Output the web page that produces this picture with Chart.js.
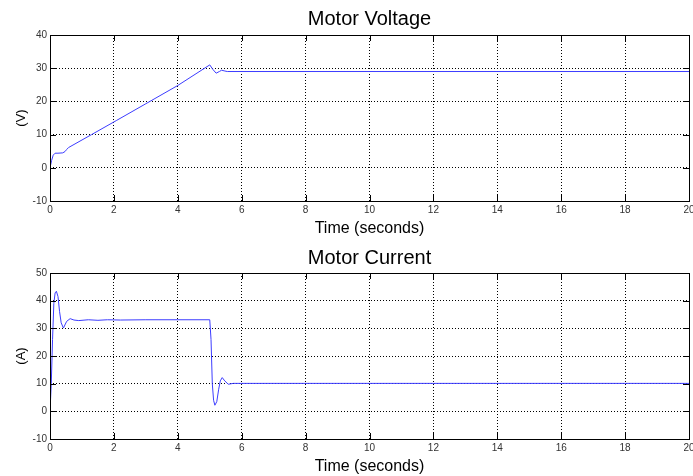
<!DOCTYPE html>
<html>
<head>
<meta charset="utf-8">
<script src="https://cdn.jsdelivr.net/npm/chart.js@4/dist/chart.umd.min.js"></script>
<style>
  body { margin: 0; background: #fff; }
  #voltage { position: absolute; left: 0; top: 0; }
  #current { position: absolute; left: 0; top: 238px; }
</style>
</head>
<body>
<canvas id="voltage" width="693" height="238"></canvas>
<canvas id="current" width="693" height="238"></canvas>
<script>
// x ticks shared by both plots
var timeTicks = [0, 2, 4, 6, 8, 10, 12, 14, 16, 18, 20];

// motor voltage (V) vs time (s)
var voltTime   = [0, 0.05, 0.1, 0.16, 0.25, 0.4, 0.47, 0.52, 0.58, 1.3, 2.09, 3, 4, 5.0, 5.1, 5.2, 5.3, 5.37, 5.45, 5.55, 20];
var voltValues = [0, 2.2, 3.8, 4.4, 4.4, 4.5, 4.9, 5.5, 6.1, 10, 14.3, 19.3, 24.8, 31.0, 29.6, 28.5, 29.0, 29.4, 29.2, 29.0, 29.0];
var voltTicks  = [-10, 0, 10, 20, 30, 40];

// motor current (A) vs time (s)
var currTime   = [0, 0.04, 0.08, 0.12, 0.16, 0.2, 0.25, 0.3, 0.35, 0.42, 0.52, 0.63, 0.75, 0.9, 1.2, 1.5, 1.8, 2.2, 3, 4, 5.0, 5.04, 5.08, 5.12, 5.16, 5.22, 5.28, 5.33, 5.39, 5.47, 5.58, 5.74, 20];
var currValues = [0, 10, 26, 39, 42.8, 43.4, 41.5, 36, 32, 30.1, 32.5, 33.5, 33, 32.8, 33.1, 32.9, 33.1, 33, 33.1, 33.1, 33.1, 26, 10, 4, 2.2, 3.5, 8, 11, 12.2, 11, 9.8, 10.1, 10.1];
var currTicks  = [-10, 0, 10, 20, 30, 40, 50];

var fontFam = '"Liberation Sans", Arial, Helvetica, sans-serif';

// MATLAB style box with inward tick marks
var boxPlugin = {
    id: 'box',
    afterDraw: function(chart) {
        var ctx = chart.ctx;
        var a = chart.chartArea;
        var xs = chart.scales.x;
        var ys = chart.scales.y;
        var tl = 6;
        ctx.save();
        ctx.strokeStyle = '#000';
        ctx.lineWidth = 1;
        ctx.setLineDash([]);
        ctx.beginPath();
        xs.ticks.forEach(function(t) {
            var px = Math.round(xs.getPixelForValue(t.value)) + 0.5;
            ctx.moveTo(px, a.bottom);
            ctx.lineTo(px, a.bottom - tl);
            ctx.moveTo(px, a.top);
            ctx.lineTo(px, a.top + tl);
        });
        ys.ticks.forEach(function(t) {
            var py = Math.round(ys.getPixelForValue(t.value)) + 0.5;
            ctx.moveTo(a.left, py);
            ctx.lineTo(a.left + tl, py);
            ctx.moveTo(a.right, py);
            ctx.lineTo(a.right - tl, py);
        });
        ctx.stroke();
        ctx.strokeRect(Math.round(a.left) + 0.5, Math.round(a.top) + 0.5,
                       Math.round(a.right - a.left), Math.round(a.bottom - a.top));
        ctx.restore();
    }
};

var makePoints = function(xs, ys) {
    var pts = [];
    for (var i = 0; i < xs.length; i++) {
        pts.push({x: xs[i], y: ys[i]});
    }
    return pts;
};

var makeChart = function(id, title, yTitle, times, values, yTicks, titleTop) {
    var ctx = document.getElementById(id).getContext('2d');
    return new Chart(ctx, {
        type: 'line',
        data: {
            datasets: [{
                data: makePoints(times, values),
                borderColor: '#3c3cff',
                borderWidth: 1,
                pointRadius: 0,
                tension: 0,
                fill: false
            }]
        },
        options: {
            responsive: false,
            animation: false,
            events: [],
            layout: { padding: { left: 0, right: 4, top: 0, bottom: 0 } },
            plugins: {
                legend: { display: false },
                tooltip: { enabled: false },
                title: {
                    display: true,
                    text: title,
                    fullSize: false,
                    color: '#000',
                    font: { family: fontFam, size: 20, weight: 'normal', lineHeight: 1.2 },
                    padding: { top: titleTop, bottom: 35 - 24 - titleTop }
                }
            },
            scales: {
                x: {
                    type: 'linear',
                    min: timeTicks[0],
                    max: timeTicks[timeTicks.length - 1],
                    afterBuildTicks: function(s) {
                        s.ticks = timeTicks.map(function(v) { return {value: v}; });
                    },
                    afterFit: function(s) {
                        s.height = 37;
                        s.paddingLeft = 0;
                        s.paddingRight = 0;
                    },
                    grid: { color: '#000', lineWidth: 1, drawTicks: false },
                    border: { display: false, dash: [1, 2] },
                    ticks: {
                        color: '#333',
                        padding: 3,
                        maxRotation: 0,
                        autoSkip: false,
                        font: { family: fontFam, size: 10 }
                    },
                    title: {
                        display: true,
                        text: 'Time (seconds)',
                        color: '#000',
                        font: { family: fontFam, size: 16, lineHeight: 1.2 },
                        padding: { top: 0, bottom: 0 }
                    }
                },
                y: {
                    type: 'linear',
                    min: yTicks[0],
                    max: yTicks[yTicks.length - 1],
                    afterBuildTicks: function(s) {
                        s.ticks = yTicks.map(function(v) { return {value: v}; });
                    },
                    afterFit: function(s) {
                        s.width = 50;
                        s.paddingTop = 0;
                        s.paddingBottom = 0;
                    },
                    grid: { color: '#000', lineWidth: 1, drawTicks: false },
                    border: { display: false, dash: [1, 2] },
                    ticks: {
                        color: '#333',
                        padding: 3,
                        autoSkip: false,
                        font: { family: fontFam, size: 10 }
                    },
                    title: {
                        display: true,
                        text: yTitle,
                        color: '#000',
                        font: { family: fontFam, size: 13, lineHeight: 1.2 },
                        padding: { top: 14, bottom: 0 }
                    }
                }
            }
        },
        plugins: [boxPlugin]
    });
};

makeChart('voltage', 'Motor Voltage', '(V)', voltTime, voltValues, voltTicks, 7);
makeChart('current', 'Motor Current', '(A)', currTime, currValues, currTicks, 8);
</script>
</body>
</html>
